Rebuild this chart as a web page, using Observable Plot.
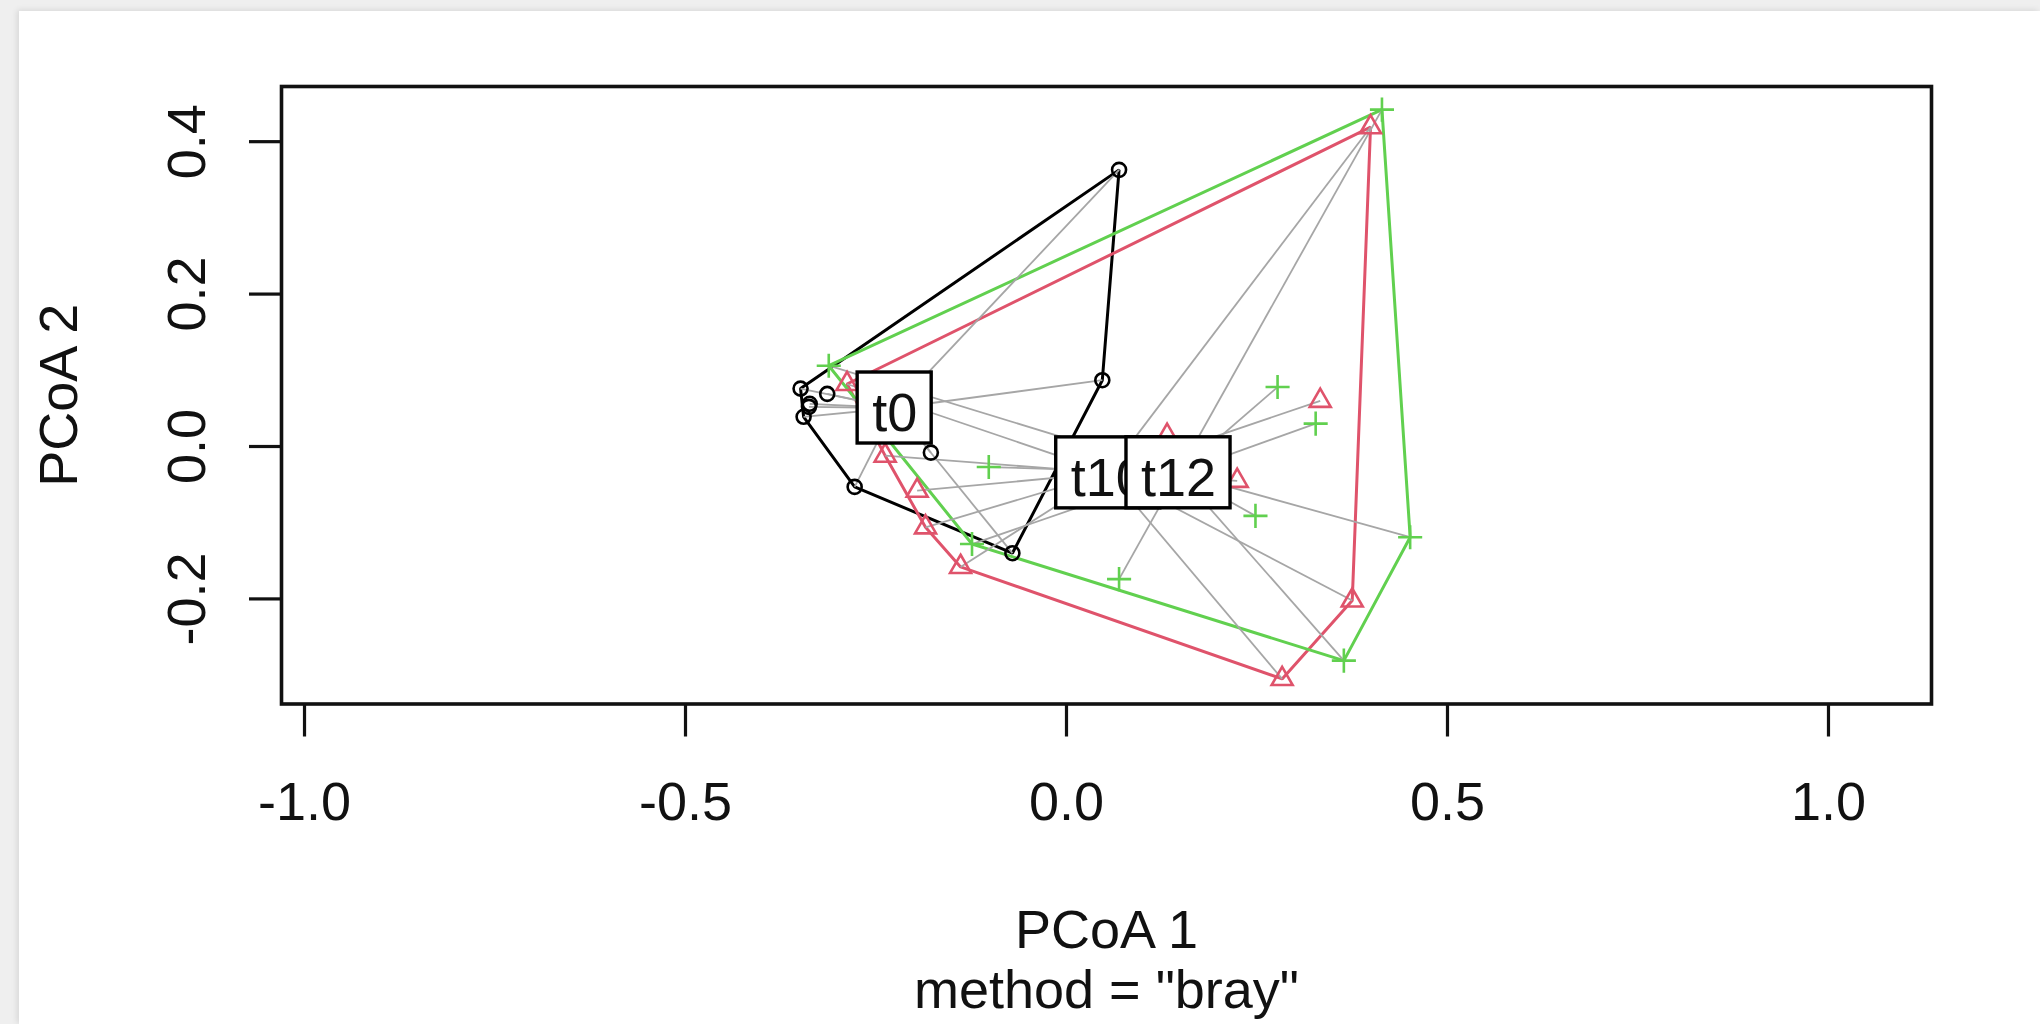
<!DOCTYPE html>
<html><head><meta charset="utf-8">
<script src="https://cdn.jsdelivr.net/npm/d3@7"></script>
<script src="https://cdn.jsdelivr.net/npm/@observablehq/plot@0.6"></script>
<style>
html,body{margin:0;padding:0;background:#efefef;width:2040px;height:1024px;overflow:hidden;}
#card{position:absolute;left:19px;top:11px;width:2021px;height:1013px;background:#fff;box-shadow:-2px -1px 6px rgba(0,0,0,0.10);}
#card svg{display:block;}
</style></head><body><div id="card"></div>
<script>
// ---- data ----
const groups = ["t0", "t10", "t12"];
const groupColors = ["#000000", "#DF536B", "#61D04F"];
const groupSymbols = ["circle", "triangle", "plus"];

const t0X = [0.069, 0.047, -0.178, -0.071, -0.278, -0.349, -0.314, -0.338, -0.345, -0.337];
const t0Y = [0.363, 0.087, -0.008, -0.140, -0.053, 0.076, 0.069, 0.052, 0.039, 0.056];

const t10X = [0.399, 0.333, 0.224, 0.132, 0.375, 0.283, -0.288, -0.238, -0.196, -0.185, -0.139];
const t10Y = [0.419, 0.060, -0.045, 0.014, -0.202, -0.305, 0.082, -0.012, -0.058, -0.106, -0.158];

const t12X = [0.414, 0.277, 0.327, 0.248, 0.451, 0.364, 0.069, -0.312, -0.102, -0.124];
const t12Y = [0.442, 0.078, 0.030, -0.091, -0.119, -0.281, -0.174, 0.106, -0.027, -0.128];

const centroidX = [-0.2255, 0.0548, 0.147];
const centroidY = [0.0505, -0.0346, -0.0345];

const xTicks = [-1.0, -0.5, 0.0, 0.5, 1.0];
const yTicks = [-0.2, 0.0, 0.2, 0.4];
const xDomain = [-1.0302, 1.1352];
const yDomain = [-0.3379, 0.4724];

const xTitle = "PCoA 1";
const yTitle = "PCoA 2";
const subTitle = 'method = "bray"';

// ---- build tables ----
const seriesX = [t0X, t10X, t12X];
const seriesY = [t0Y, t10Y, t12Y];
const points = [];
groups.forEach((g, gi) => {
  seriesX[gi].forEach((xv, i) => {
    points.push({group: g, x: xv, y: seriesY[gi][i], cx: centroidX[gi], cy: centroidY[gi]});
  });
});
const centers = groups.map((g, gi) => ({group: g, x: centroidX[gi], y: centroidY[gi]}));

const FONT = "'Liberation Sans', Arial, Helvetica, sans-serif";
const FS = 54;
const ctx = document.createElement("canvas").getContext("2d");
ctx.font = `${FS}px 'Liberation Sans'`;
const fmt = d => d.toFixed(1);

const dotSizes = {circle: 7, triangle: 7.8, plus: 7.8};

const marks = [];
marks.push(Plot.hull(points, {x: "x", y: "y", z: "group", stroke: "group", strokeWidth: 3, fill: "none"}));
marks.push(Plot.link(points, {x1: "x", y1: "y", x2: "cx", y2: "cy", stroke: "#a6a6a6", strokeWidth: 1.8}));
groups.forEach((g, gi) => {
  marks.push(Plot.dot(points.filter(p => p.group === g), {
    x: "x", y: "y", symbol: () => groupSymbols[gi], r: dotSizes[groupSymbols[gi]],
    stroke: groupColors[gi], fill: "none", strokeWidth: 2.6
  }));
});
centers.forEach((c) => {
  const hw = ctx.measureText(c.group).width / 2 + 14.5;
  const hh = 35.5;
  marks.push(Plot.rect([c], {x1: "x", x2: "x", y1: "y", y2: "y", fill: "white", stroke: "black", strokeWidth: 3.4,
    insetLeft: -hw, insetRight: -hw, insetTop: -hh, insetBottom: -hh}));
  marks.push(Plot.text([c], {x: "x", y: "y", text: "group", fontSize: FS, fill: "#111", lineAnchor: "middle", dy: 6}));
});
marks.push(Plot.frame({stroke: "#111", strokeWidth: 3.6}));
marks.push(Plot.axisX({ticks: xTicks, tickSize: 33, strokeWidth: 3.2, stroke: "#111", fill: "none", label: null}));
marks.push(Plot.axisY({ticks: yTicks, tickSize: 32, strokeWidth: 3.2, stroke: "#111", fill: "none", label: null}));
marks.push(Plot.text(xTicks, {x: d => d, text: fmt, frameAnchor: "bottom", dy: 98.5, lineAnchor: "middle", fontSize: FS, fill: "#111"}));
marks.push(Plot.text(yTicks, {y: d => d, text: fmt, frameAnchor: "left", dx: -94, rotate: -90, lineAnchor: "middle", textAnchor: "middle", fontSize: FS, fill: "#111"}));
marks.push(Plot.text([xTitle], {text: d => d, frameAnchor: "bottom", dy: 227, lineAnchor: "middle", fontSize: FS, fill: "#111"}));
marks.push(Plot.text([subTitle], {text: d => d, frameAnchor: "bottom", dy: 287, lineAnchor: "middle", fontSize: FS, fill: "#111"}));
marks.push(Plot.text([yTitle], {text: d => d, frameAnchor: "left", dx: -222, rotate: -90, lineAnchor: "middle", textAnchor: "middle", fontSize: FS, fill: "#111"}));

const chart = Plot.plot({
  width: 2021,
  height: 1013,
  marginLeft: 262,
  marginRight: 109,
  marginTop: 75,
  marginBottom: 320.5,
  x: {domain: xDomain, axis: null},
  y: {domain: yDomain, axis: null},
  color: {domain: groups, range: groupColors},
  style: {fontFamily: FONT, fontSize: FS + "px", background: "white", overflow: "visible", color: "#111"},
  marks
});
document.getElementById("card").appendChild(chart);
</script></body></html>
